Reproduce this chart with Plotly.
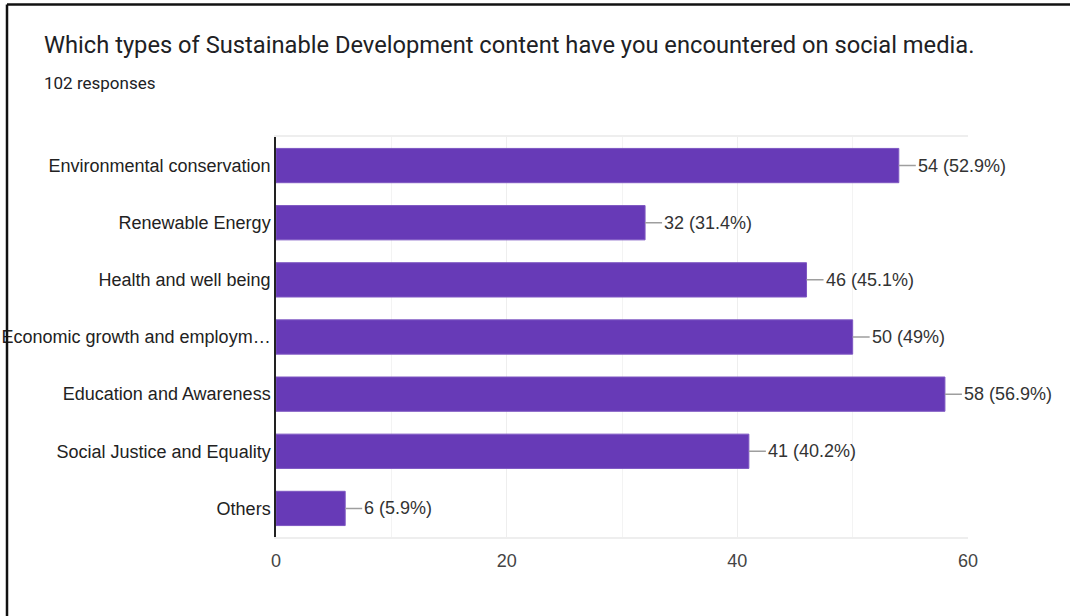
import plotly.graph_objects as go

categories = ["Environmental conservation", "Renewable Energy", "Health and well being",
              "Economic growth and employm…", "Education and Awareness",
              "Social Justice and Equality", "Others"]
counts = [54, 32, 46, 50, 58, 41, 6]
percents = ["52.9%", "31.4%", "45.1%", "49%", "56.9%", "40.2%", "5.9%"]
x_ticks = [0, 20, 40, 60]

W, H = 1070, 616
L, R, T, B = 276, 968, 137, 537


def px(x):
    return (x - L) / (R - L)


def py(y):
    return (B - y) / (B - T)


fig = go.Figure(go.Bar(
    x=counts, y=categories, orientation="h",
    marker=dict(color="#673ab7", line=dict(color="#7e57c2", width=1)),
    width=0.6, hoverinfo="skip",
))

for c, v, p in zip(categories, counts, percents):
    fig.add_annotation(x=v, y=c, xref="x", yref="y", text=f"{v} ({p})",
                       showarrow=True, arrowhead=0, arrowwidth=1.5, arrowcolor="#9e9e9e",
                       ax=17, ay=0, xanchor="left", yanchor="middle",
                       font=dict(family="Liberation Sans, Arial", size=18, color="#333333"))

fig.add_annotation(xref="paper", yref="paper", x=px(42), y=py(45), xanchor="left", yanchor="middle",
                   text="Which types of Sustainable Development content have you encountered on social media.",
                   showarrow=False, font=dict(family="Roboto", size=23.7, color="#202124"))
fig.add_annotation(xref="paper", yref="paper", x=px(42), y=py(83), xanchor="left", yanchor="middle",
                   text="102 responses", showarrow=False,
                   font=dict(family="Roboto", size=17, color="#202124"))

# frame of the screenshot
fig.add_shape(type="line", xref="paper", yref="paper", x0=px(7), x1=px(1070), y0=py(4.5), y1=py(4.5),
              line=dict(color="#111111", width=2.5))
fig.add_shape(type="line", xref="paper", yref="paper", x0=px(7), x1=px(7), y0=py(4.5), y1=py(616),
              line=dict(color="#111111", width=2.5))

fig.update_layout(
    width=W, height=H, autosize=False,
    margin=dict(l=L, r=W - R, t=T, b=H - B, pad=0, autoexpand=False),
    paper_bgcolor="white", plot_bgcolor="white",
    showlegend=False, bargap=0.4,
    xaxis=dict(range=[0, 60], tickvals=x_ticks, showgrid=True, gridcolor="#eeeeee", gridwidth=1,
               minor=dict(dtick=10, showgrid=True, gridcolor="#f3f3f3", gridwidth=1),
               showline=True, linecolor="#eeeeee", linewidth=1.5, mirror=True,
               zeroline=False, ticks="", ticklabelstandoff=7, automargin=False,
               tickfont=dict(family="Liberation Sans, Arial", size=18, color="#444444")),
    yaxis=dict(categoryorder="array", categoryarray=categories[::-1],
               showline=True, linecolor="#222222", linewidth=1.5, showgrid=False,
               ticks="", ticklabelstandoff=0, automargin=False,
               tickfont=dict(family="Liberation Sans, Arial", size=18, color="#222222")),
)

fig.write_html("out.html", config={"displayModeBar": False},
               post_script="document.body.style.margin='0';")
